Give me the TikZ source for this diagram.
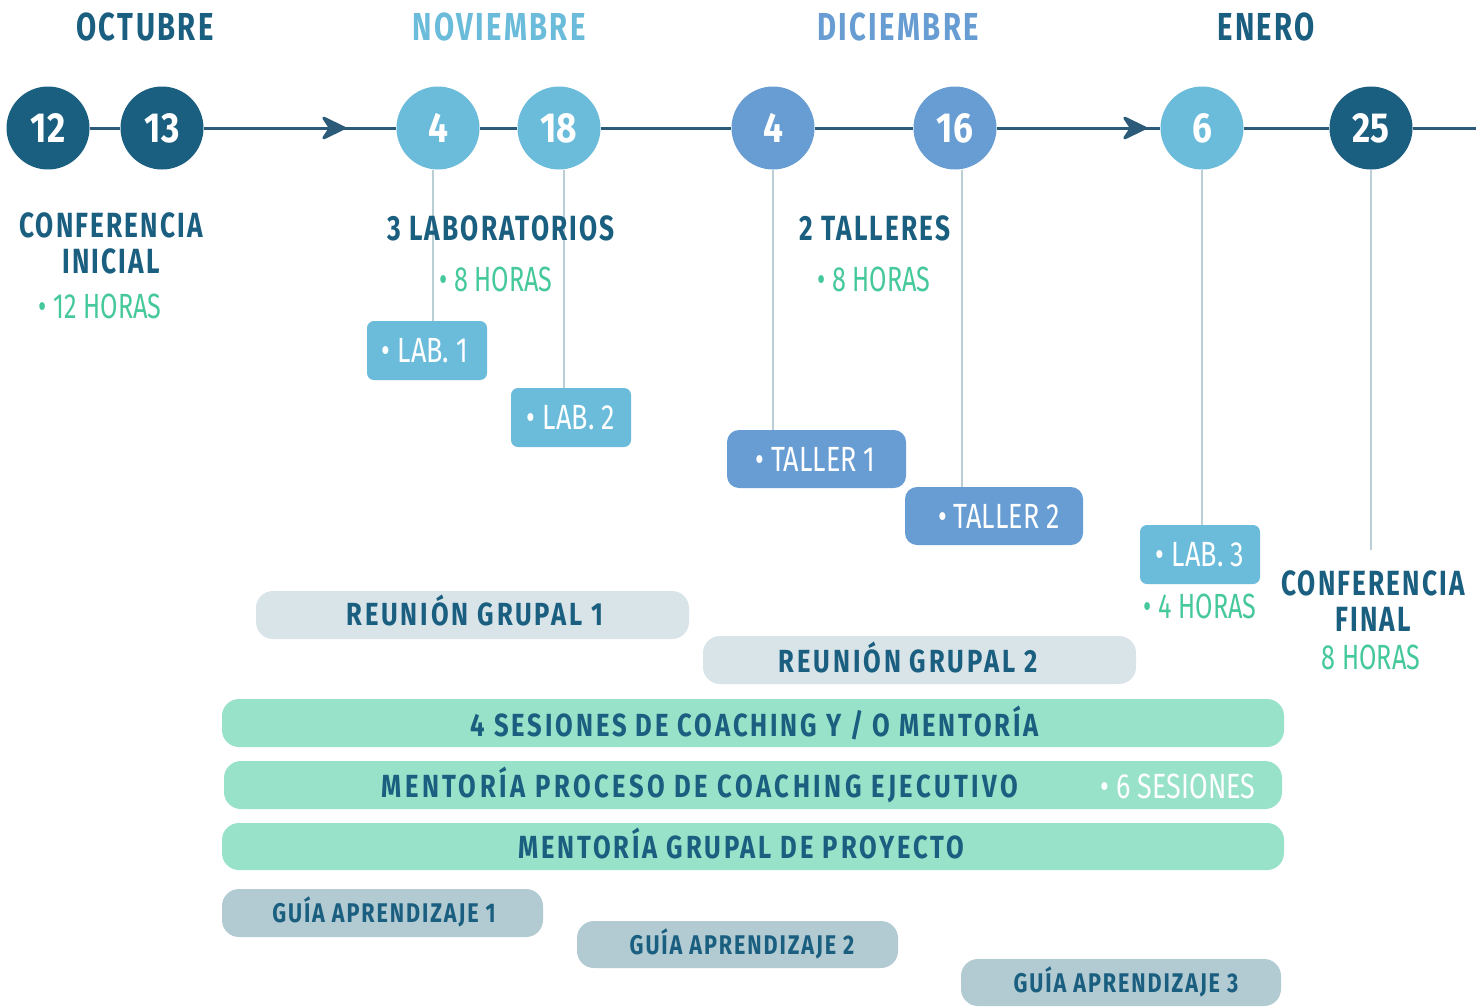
\documentclass[tikz,border=0pt]{standalone}
\usepackage{fontspec}
\usetikzlibrary{arrows.meta,decorations.markings}
\setmainfont{Fira Sans}
\newfontfamily\fh[FakeStretch=0.75,LetterSpace=6]{Fira Sans}
\newfontfamily\fb[FakeStretch=0.8,LetterSpace=9]{Fira Sans}
\newfontfamily\fbw[FakeStretch=0.8,LetterSpace=11]{Fira Sans}
\newfontfamily\fg[FakeStretch=0.8,LetterSpace=7]{Fira Sans}
\newfontfamily\fd[FakeStretch=0.84]{Fira Sans}
\newfontfamily\fr[FakeStretch=0.72]{Fira Sans}
\newfontfamily\fs[FakeStretch=0.77]{Fira Sans}
\definecolor{navy}{HTML}{1A5E80}
\definecolor{lblue}{HTML}{6BBCDA}
\definecolor{mblue}{HTML}{679DD2}
\definecolor{grn}{HTML}{45C99A}
\definecolor{mint}{HTML}{98E2C9}
\definecolor{lgray}{HTML}{D9E4E9}
\definecolor{ggray}{HTML}{B2CAD1}
\definecolor{tline}{HTML}{2B5B78}
\definecolor{vline}{HTML}{B9CED5}
\tikzset{
 day/.style={circle,minimum size=83pt,inner sep=0pt,text=white,font=\fd\bfseries\fontsize{42}{42}\selectfont},
 mon/.style={font=\fh\bfseries\fontsize{39}{39}\selectfont},
 ttl/.style={text=navy,align=center,font=\fh\bfseries\fontsize{35}{36}\selectfont},
 hrs/.style={text=grn,font=\fr\fontsize{35}{35}\selectfont},
 tag/.style={rounded corners=7pt,minimum width=120pt,minimum height=59pt,inner sep=0pt},
 tagtxt/.style={text=white,font=\fs\fontsize{35}{35}\selectfont},
 bar/.style={rounded corners=17pt,minimum height=48pt,inner sep=0pt},
 bartxt/.style={text=navy,anchor=base,inner sep=0pt,font=\fb\bfseries\fontsize{32}{32}\selectfont},
 gtxt/.style={text=navy,anchor=base,inner sep=0pt,font=\fg\bfseries\fontsize{27}{27}\selectfont},
 sestxt/.style={text=white,anchor=base,inner sep=0pt,font=\fs\fontsize{35}{35}\selectfont},
 tl/.style={draw=tline,line width=3pt},
 vl/.style={draw=vline,line width=2pt},
 chev/.style={postaction={decorate,decoration={markings,mark=at position #1 with {\arrow[tline]{Stealth[length=28pt,width=27pt,inset=9pt,round]}}}}},
}
\begin{document}
\begin{tikzpicture}[x=1pt,y=-1pt]
\useasboundingbox[fill=white] (0,0) rectangle (1483,1007);

% months
\node[mon,text=navy] (moct) at (145,27) {OCTUBRE};
\node[mon,text=lblue] (mnov) at (499,27) {NOVIEMBRE};
\node[mon,text=mblue] (mdic) at (898,27) {DICIEMBRE};
\node[mon,text=navy] (mene) at (1266,27) {ENERO};

% day circles
\node[day,fill=navy] (d12) at (48,128) {12};
\node[day,fill=navy] (d13) at (162,128) {13};
\node[day,fill=lblue] (d4n) at (438,128) {4};
\node[day,fill=lblue] (d18) at (559,128) {18};
\node[day,fill=mblue] (d4d) at (773,128) {4};
\node[day,fill=mblue] (d16) at (955,128) {16};
\node[day,fill=lblue] (d6) at (1202,128) {6};
\node[day,fill=navy] (d25) at (1371,128) {25};
\coordinate (tend) at (1476,128);

% tags
\node[tag,fill=lblue] (lab1) at (427,350.5) {};
\node[tag,fill=lblue] (lab2) at (571,417.5) {};
\node[tag,fill=mblue,rounded corners=12pt,minimum width=179pt,minimum height=58pt] (tal1) at (816.5,459) {};
\node[tag,fill=mblue,rounded corners=12pt,minimum width=178pt,minimum height=58pt] (tal2) at (994,516) {};
\node[tag,fill=lblue] (lab3) at (1200,554.5) {};
\coordinate (cfend) at (1371,550);

% vertical connectors
\draw[vl] ([xshift=-5pt]d4n.south) -- ([xshift=-5pt]d4n.south |- lab1.north);
\draw[vl] ([xshift=5pt]d18.south) -- ([xshift=5pt]d18.south |- lab2.north);
\draw[vl] (d4d.south) -- (d4d.south |- tal1.north);
\draw[vl] ([xshift=7pt]d16.south) -- ([xshift=7pt]d16.south |- tal2.north);
\draw[vl] (d6.south) -- (d6.south |- lab3.north);
\draw[vl] (d25.south) -- (cfend);

% timeline
\draw[tl] (d12) -- (d13);
\draw[tl,chev=142pt] (d13) -- (d4n);
\draw[tl] (d4n) -- (d18);
\draw[tl] (d18) -- (d4d);
\draw[tl] (d4d) -- (d16);
\draw[tl,chev=150pt] (d16) -- (d6);
\draw[tl] (d6) -- (d25);
\draw[tl] (d25) -- (tend);

% tag texts
\node[tagtxt] (tl1) at (425,350.5) {• LAB. 1};
\node[tagtxt] (tl2) at (lab2) {• LAB. 2};
\node[tagtxt] (tt1) at (815.5,459) {• TALLER 1};
\node[tagtxt] (tt2) at (999,516) {• TALLER 2};
\node[tagtxt] (tl3) at (lab3) {• LAB. 3};

% titles
\node[ttl] (cini) at (111,243) {CONFERENCIA\\INICIAL};
\node[hrs] (h12) at (100,306) {• 12 HORAS};
\node[ttl] (lab) at (501,228) {3 LABORATORIOS};
\node[hrs] (h8a) at (496,279) {• 8 HORAS};
\node[ttl] (tal) at (875,228) {2 TALLERES};
\node[hrs] (h8b) at (874,279) {• 8 HORAS};
\node[hrs] (h4) at (1200,606) {• 4 HORAS};
\node[ttl] (cfin) at (1373,601) {CONFERENCIA\\FINAL};
\node[hrs] (h8c) at (1371,657) {8 HORAS};

% bars
\node[bar,fill=lgray,minimum width=433pt] (rg1) at (472.5,615) {};
\node[bar,fill=lgray,minimum width=433pt] (rg2) at (919.5,660) {};
\node[bar,fill=mint,minimum width=1062pt] (s4) at (753,723) {};
\node[bar,fill=mint,minimum width=1058pt] (mp) at (753,785) {};
\node[bar,fill=mint,minimum width=1062pt,minimum height=47pt] (mg) at (753,846.5) {};
\node[bar,fill=ggray,minimum width=321pt] (g1) at (382.5,913) {};
\node[bar,fill=ggray,minimum width=321pt,minimum height=47pt] (g2) at (737.5,944.5) {};
\node[bar,fill=ggray,minimum width=320pt,minimum height=47pt] (g3) at (1121,982.5) {};

\node[bartxt] (trg1) at (475,625) {REUNIÓN GRUPAL 1};
\node[bartxt] (trg2) at (908,672) {REUNIÓN GRUPAL 2};
\node[bartxt] (ts4) at (755,736) {4 SESIONES DE COACHING Y / O MENTORÍA};
\node[bartxt,font=\fbw\bfseries\fontsize{32}{32}\selectfont] (tmp) at (700,797) {MENTORÍA PROCESO DE COACHING EJECUTIVO};
\node[sestxt] (tses) at (1178,798) {• 6 SESIONES};
\node[bartxt] (tmg) at (741,858) {MENTORÍA GRUPAL DE PROYECTO};
\node[gtxt] (tg1) at (384,922) {GUÍA APRENDIZAJE 1};
\node[gtxt] (tg2) at (742,954) {GUÍA APRENDIZAJE 2};
\node[gtxt] (tg3) at (1126,992) {GUÍA APRENDIZAJE 3};
\end{tikzpicture}
\end{document}
